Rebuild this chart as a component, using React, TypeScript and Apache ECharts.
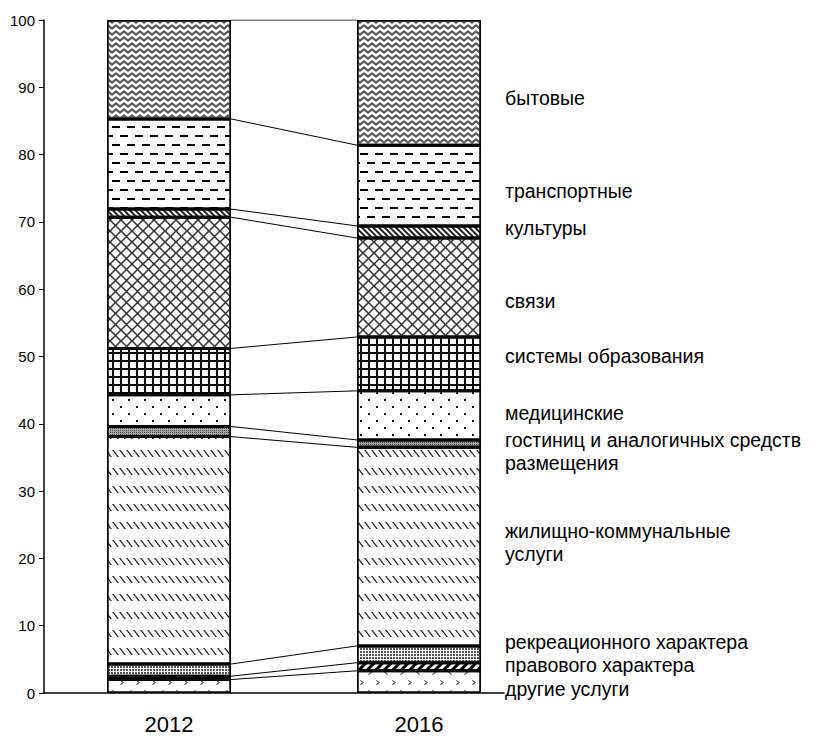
import React, { useEffect, useRef } from "react";
import * as echarts from "echarts";

// ---- data ----
const categories = ["2012", "2016"];
const serviceNames = [
  "другие услуги",
  "правового характера",
  "рекреационного характера",
  "жилищно-коммунальные\nуслуги",
  "гостиниц и аналогичных средств\nразмещения",
  "медицинские",
  "системы образования",
  "связи",
  "культуры",
  "транспортные",
  "бытовые",
];
const values2012 = [2.0, 0.5, 1.8, 33.8, 1.5, 4.7, 6.9, 19.5, 1.2, 13.4, 14.7];
const values2016 = [3.3, 1.2, 2.5, 29.5, 1.1, 7.3, 8.0, 14.7, 1.8, 12.0, 18.6];
const yTicks = [0, 10, 20, 30, 40, 50, 60, 70, 80, 90, 100];

// ---- styling ----
const FONT = "'Liberation Sans', Arial, sans-serif";
const BAR_WIDTH = 124;
const BAND_PX = 250;
const labelDy = [7, -2, -12, -4, 8, -2, -8, 13.5, -4, 5, 15];

const X_PATH =
  "path://M0,0 L1.1,0 L11,9.9 L11,11 L9.9,11 L0,1.1 Z M11,0 L11,1.1 L1.1,11 L0,11 L0,9.9 L9.9,0 Z";

const base = {
  symbolSize: 1,
  symbolKeepAspect: false,
  backgroundColor: null,
  rotation: 0,
  maxTileWidth: 512,
  maxTileHeight: 512,
};

const decals: any[] = [
  // другие услуги
  {
    ...base,
    symbol: ["path://M4,0 L5,1 L2,3 L5,5 L4,6 L0,3 Z", "path://M1,0 L0,1 L3,3 L0,5 L1,6 L5,3 Z"],
    color: "#444",
    dashArrayX: [[4, 12], [0, 8, 4, 4]],
    dashArrayY: [5, 5],
  },
  // правового характера
  { ...base, symbol: "rect", color: "#000", dashArrayX: [[10, 0]], dashArrayY: [3, 3], rotation: -Math.PI / 4 },
  // рекреационного характера
  { ...base, symbol: "rect", color: "#555", dashArrayX: [[2, 1]], dashArrayY: [2, 1] },
  // ЖКУ
  { ...base, symbol: "path://M0,0 L1.6,0 L7,7 L5.4,7 Z", color: "#222", dashArrayX: [[7, 0]], dashArrayY: [7, 11] },
  // гостиниц
  { ...base, symbol: "rect", color: "#444", dashArrayX: [[1, 1]], dashArrayY: [1, 1] },
  // медицинские
  { ...base, symbol: "rect", color: "#111", dashArrayX: [[2, 14], [0, 8, 2, 6]], dashArrayY: [2, 5] },
  // образование
  { ...base, symbol: "path://M0,0 H8 V2 H2 V8 H0 Z", color: "#000", dashArrayX: [[8, 0]], dashArrayY: [8, 0] },
  // связи
  { ...base, symbol: X_PATH, color: "#333", dashArrayX: [[11, 0]], dashArrayY: [11, 0] },
  // культуры
  { ...base, symbol: "rect", color: "#222", dashArrayX: [[10, 0]], dashArrayY: [2, 2], rotation: Math.PI / 4 },
  // транспортные
  { ...base, symbol: "rect", color: "#000", dashArrayX: [[8, 7], [0, 7, 8, 0]], dashArrayY: [2, 7] },
  // бытовые
  { ...base, symbol: "path://M0,3 L4,0 L8,3 L8,5.5 L4,2.5 L0,5.5 Z", color: "#555", dashArrayX: [[8, 0]], dashArrayY: [6, 0] },
];
const baseColors = ["#fff", "#fff", "#fff", "#fff", "#a8a8a8", "#fff", "#fff", "#fff", "#fff", "#fff", "#fff"];

function cumulative(arr: number[]) {
  const out: number[] = [];
  let s = 0;
  arr.forEach((v) => {
    s += v;
    out.push(s);
  });
  return out;
}

export default function App() {
  const ref = useRef<HTMLDivElement>(null);

  useEffect(() => {
    if (!ref.current) return;
    const chart = echarts.init(ref.current, undefined, { renderer: "svg" });

    const cum12 = cumulative(values2012);
    const cum16 = cumulative(values2016);
    const half = BAR_WIDTH / 2 / BAND_PX;

    const barSeries = serviceNames.map((name, i) => ({
      type: "bar",
      name,
      stack: "total",
      xAxisIndex: 0,
      yAxisIndex: 0,
      barWidth: BAR_WIDTH,
      z: 3,
      itemStyle: {
        color: baseColors[i],
        borderColor: "#000",
        borderWidth: 1.5,
        decal: decals[i],
      },
      data: [
        values2012[i],
        {
          value: values2016[i],
          label: {
            show: true,
            position: "right",
            distance: 24,
            offset: [0, labelDy[i]],
            formatter: "{a}",
            color: "#000",
            fontSize: 19.5,
            lineHeight: 23,
            fontFamily: FONT,
          },
        },
      ],
    }));

    const lineSeries = serviceNames.map((name, i) => ({
      type: "line",
      name: "conn-" + i,
      xAxisIndex: 1,
      yAxisIndex: 0,
      symbol: "none",
      silent: true,
      z: 1,
      lineStyle: { color: "#000", width: 1 },
      data: [
        [0.5 + half, cum12[i]],
        [1.5 - half, cum16[i]],
      ],
    }));

    chart.setOption({
      animation: false,
      aria: { enabled: true, decal: { show: true } },
      grid: [
        { left: 44, right: 288, top: 20, bottom: 51 },
        { left: 44, right: 328, top: 20, bottom: 51 },
      ],
      xAxis: [
        {
          type: "category",
          gridIndex: 0,
          data: categories,
          axisLine: { show: false },
          axisTick: { show: false },
          axisLabel: { color: "#000", fontSize: 22, margin: 20, fontFamily: FONT },
        },
        { type: "value", gridIndex: 0, min: 0, max: 2, show: false },
        {
          type: "category",
          gridIndex: 1,
          data: [""],
          axisLine: { show: true, lineStyle: { color: "#000", width: 1.5 } },
          axisTick: { show: false },
          axisLabel: { show: false },
        },
      ],
      yAxis: [
        {
          type: "value",
          gridIndex: 0,
          min: yTicks[0],
          max: yTicks[yTicks.length - 1],
          interval: yTicks[1] - yTicks[0],
          splitLine: { show: false },
          axisLine: { show: true, lineStyle: { color: "#000", width: 1.5 } },
          axisTick: { show: true, length: 5, lineStyle: { color: "#000", width: 1 } },
          axisLabel: { color: "#000", fontSize: 15, margin: 9, fontFamily: FONT },
        },
        { type: "value", gridIndex: 1, min: 0, max: 100, show: false },
      ],
      series: [...lineSeries, ...barSeries],
    });

    return () => chart.dispose();
  }, []);

  return (
    <div
      ref={ref}
      style={{ position: "fixed", left: 0, top: 0, width: 832, height: 744, background: "#fff" }}
    />
  );
}
